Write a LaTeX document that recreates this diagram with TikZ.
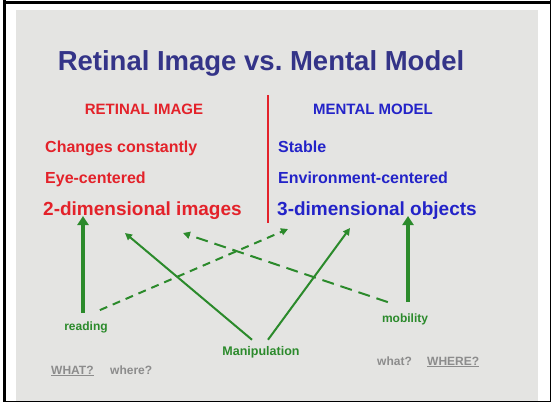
\documentclass[tikz,border=0pt]{standalone}
\usepackage{fontspec}
\setmainfont{Liberation Sans}
\usetikzlibrary{arrows.meta}
\definecolor{titleblue}{HTML}{343488}
\definecolor{retred}{HTML}{E3222A}
\definecolor{menblue}{HTML}{2323C8}
\definecolor{arrgreen}{HTML}{2B8A2B}
\definecolor{qgray}{HTML}{8C8C8C}
\definecolor{paper}{HTML}{E4E4E2}
\begin{document}
\begin{tikzpicture}[x=1pt, y=-1pt,
    txt/.style={inner sep=0pt, font=\bfseries},
    item/.style={txt, anchor=base west, font=\fontsize{16}{18}\selectfont\bfseries},
    big/.style={txt, anchor=base west, font=\fontsize{19}{22}\selectfont\bfseries},
    usage/.style={txt, anchor=base, text=arrgreen, font=\fontsize{12}{14}\selectfont\bfseries},
    query/.style={txt, anchor=base west, text=qgray, font=\fontsize{12}{14}\selectfont\bfseries},
    thick arrow/.style={arrgreen, line width=4pt, -{Triangle[length=9pt, width=11pt]}},
    thin arrow/.style={arrgreen, line width=2pt, -{Triangle[length=7pt, width=7pt]}}]
    \useasboundingbox (0,0) rectangle (551,402);
    \fill[white] (0,0) rectangle (551,402);
    \fill[paper] (16,10) rectangle (538,402);
    \fill[black] (3,0) rectangle (6,402);
    \fill[black] (3,1) rectangle (551,4);
    \draw[black, line width=1pt] (550,0) -- (550,401.5) -- (3,401.5);

    \node[txt, anchor=base, text=titleblue, font=\fontsize{27.5}{30}\selectfont\bfseries] (title) at (261,70) {Retinal Image vs.\ Mental Model};

    \node[txt, anchor=base, text=retred, font=\fontsize{15}{18}\selectfont\bfseries] (retinal) at (144,114) {RETINAL IMAGE};
    \node[txt, anchor=base, text=menblue, font=\fontsize{15}{18}\selectfont\bfseries] (mental) at (373,114) {MENTAL MODEL};
    \draw[retred, line width=1.5pt] (268,95) -- (268,223);

    \node[item, text=retred] (changes) at (45,152) {Changes constantly};
    \node[item, text=retred] (eye) at (45,183) {Eye-centered};
    \node[big, text=retred] (twod) at (43,215) {2-dimensional images};
    \node[item, text=menblue] (stable) at (278,152) {Stable};
    \node[item, text=menblue] (env) at (278,183) {Environment-centered};
    \node[big, text=menblue] (threed) at (277,215) {3-dimensional objects};

    \node[usage] (reading) at (86,330) {reading};
    \node[usage] (mobility) at (405,322) {mobility};
    \node[usage, font=\fontsize{12.5}{14}\selectfont\bfseries] (manip) at (261,355) {Manipulation};

    \node[query] (whatA) at (51,374) {\underline{WHAT?}};
    \node[query] (whereA) at (110,374) {where?};
    \node[query] (whatB) at (377,365) {what?};
    \node[query] (whereB) at (427,365) {\underline{WHERE?}};

    % arrow tips below the two columns
    \coordinate (tipread) at (83,216);
    \coordinate (tipmob) at (408,216);
    \coordinate (tipleft) at (125,233);
    \coordinate (tipright) at (350,228);
    \coordinate (tipdash) at (288,229);
    \coordinate (tiplong) at (183,233);

    \draw[thick arrow] ([xshift=-3pt, yshift=8pt]reading.north) -- (tipread);
    \draw[thick arrow] ([xshift=3pt, yshift=11pt]mobility.north) -- (tipmob);
    \draw[thin arrow] ([xshift=-9pt, yshift=6pt]manip.north) -- (tipleft);
    \draw[thin arrow] ([xshift=7pt, yshift=6pt]manip.north) -- (tipright);
    \draw[thin arrow, dash pattern=on 8pt off 6pt] ([xshift=-8pt, yshift=11pt]reading.north east) -- (tipdash);
    \draw[thin arrow, dash pattern=on 12pt off 7pt] ([xshift=6pt, yshift=11pt]mobility.north west) -- (tiplong);
\end{tikzpicture}
\end{document}
